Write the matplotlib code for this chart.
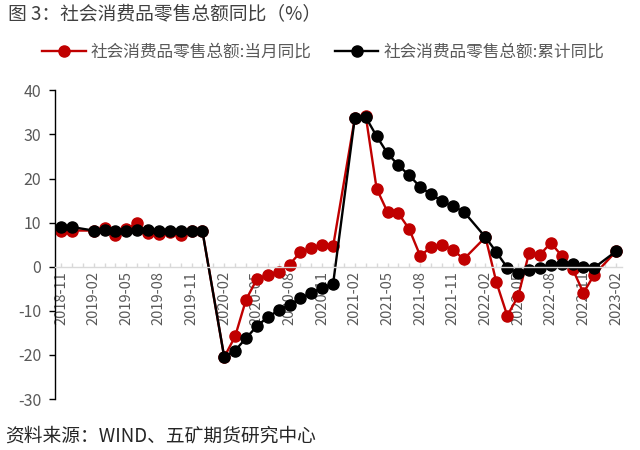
import matplotlib
matplotlib.use("Agg")
import matplotlib.pyplot as plt
from matplotlib.ticker import MultipleLocator, FixedLocator

plt.rcParams['font.family'] = ['Noto Sans CJK SC', 'DejaVu Sans']
plt.rcParams['axes.unicode_minus'] = False

# Monthly categories 2018-11 .. 2023-02 (January has no data -> None)
n_months = 52
tick_labels = ["2018-11", "2019-02", "2019-05", "2019-08", "2019-11",
               "2020-02", "2020-05", "2020-08", "2020-11", "2021-02",
               "2021-05", "2021-08", "2021-11", "2022-02", "2022-05",
               "2022-08", "2022-11", "2023-02"]

monthly_yoy = [8.1, 8.2, None,
               8.2, 8.7, 7.2, 8.6, 9.8, 7.6, 7.5, 7.8, 7.2, 8.0, 8.0, None,
               -20.5, -15.8, -7.5, -2.8, -1.8, -1.1, 0.5, 3.3, 4.3, 5.0, 4.6, None,
               33.8, 34.2, 17.7, 12.4, 12.1, 8.5, 2.5, 4.4, 4.9, 3.9, 1.7, None,
               6.7, -3.5, -11.1, -6.7, 3.1, 2.7, 5.4, 2.5, -0.5, -5.9, -1.8, None,
               3.5]

cumulative_yoy = [9.1, 9.0, None,
                  8.2, 8.3, 8.0, 8.1, 8.4, 8.3, 8.2, 8.2, 8.1, 8.0, 8.0, None,
                  -20.5, -19.0, -16.2, -13.5, -11.4, -9.9, -8.6, -7.2, -5.9, -4.8, -3.9, None,
                  33.8, 33.9, 29.6, 25.7, 23.0, 20.7, 18.1, 16.4, 14.9, 13.7, 12.5, None,
                  6.7, 3.3, -0.2, -1.5, -0.7, -0.2, 0.5, 0.7, 0.6, -0.1, -0.2, None,
                  3.5]

series_names = ["社会消费品零售总额:当月同比", "社会消费品零售总额:累计同比"]
series_colors = ["#C00000", "#000000"]

fig = plt.figure(figsize=(6.4, 4.5), dpi=100)
ax = fig.add_axes([0.0859, 0.1133, 0.972 - 0.0859, 0.7993 - 0.1133])

for vals, name, col in zip([monthly_yoy, cumulative_yoy], series_names, series_colors):
    xs = [i for i, v in enumerate(vals) if v is not None]
    ys = [v for v in vals if v is not None]
    ax.plot(xs, ys, color=col, lw=1.7, marker='o', ms=8, label=name)

ax.set_xlim(-0.55, n_months - 1 + 0.55)
ax.set_ylim(-30, 40)
ax.yaxis.set_major_locator(MultipleLocator(10))

for s in ['top', 'right']:
    ax.spines[s].set_visible(False)
ax.spines['left'].set_color('#000000')
ax.spines['left'].set_linewidth(1.0)
ax.spines['bottom'].set_position(('data', 0))
ax.spines['bottom'].set_color('#D9D9D9')
ax.spines['bottom'].set_linewidth(1.0)

ax.tick_params(axis='y', direction='out', length=4, width=1, color='#000000',
               labelcolor='#595959', labelsize=11.5, pad=6)
major_pos = list(range(0, n_months, 3))
ax.xaxis.set_major_locator(FixedLocator(major_pos))
ax.set_xticklabels(tick_labels, rotation=90, va='top', ha='center')
ax.xaxis.set_minor_locator(FixedLocator(list(range(n_months))))
ax.tick_params(axis='x', which='both', direction='in', length=3, width=1,
               color='#D9D9D9', labelcolor='#595959', labelsize=10.5, pad=3)

fig.text(0.012, 0.968, "图 3：社会消费品零售总额同比（%）", fontsize=13.5,
         color='#404040', va='center', ha='left')
fig.text(0.008, 0.031, "资料来源：WIND、五矿期货研究中心", fontsize=13.5,
         color='#262626', va='center', ha='left')

leg = fig.legend(loc='center', bbox_to_anchor=(0.505, 0.884), ncol=2, frameon=False,
                 fontsize=12, handlelength=2.6, columnspacing=1.4, handletextpad=0.3)
for t in leg.get_texts():
    t.set_color('#595959')

fig.savefig("out.png", dpi=100)
